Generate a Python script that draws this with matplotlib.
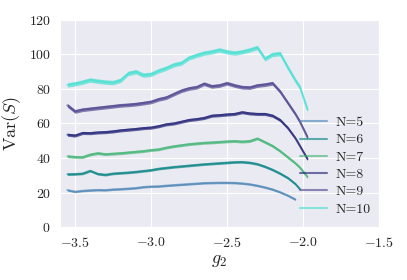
import numpy as np
import matplotlib.pyplot as plt
import seaborn as sns

G2 = [-3.55, -3.50, -3.45, -3.40, -3.35, -3.30, -3.25, -3.20, -3.15, -3.10, -3.05,
      -3.00, -2.95, -2.90, -2.85, -2.80, -2.75, -2.70, -2.65, -2.60, -2.55, -2.50,
      -2.45, -2.40, -2.35, -2.30, -2.25, -2.20, -2.15, -2.10, -2.05, -2.02, -1.97]

N_VALUES = [5, 6, 7, 8, 9, 10]

VAR_N5 = [21.4, 20.5, 21.0, 21.3, 21.5, 21.4, 21.8, 22.0, 22.3, 22.6, 23.2,
          23.5, 23.6, 24.0, 24.3, 24.6, 24.9, 25.2, 25.5, 25.6, 25.7, 25.7,
          25.6, 25.3, 24.8, 24.0, 23.0, 21.8, 20.2, 18.3, 16.0]
VAR_N6 = [30.6, 30.7, 31.0, 32.6, 30.8, 30.3, 31.0, 31.3, 31.6, 32.0, 32.5,
          33.0, 33.8, 34.3, 34.8, 35.2, 35.6, 36.0, 36.4, 36.7, 37.0, 37.3,
          37.6, 37.7, 37.3, 36.5, 35.0, 33.2, 31.0, 28.5, 25.0, 22.0]
VAR_N7 = [41.0, 40.6, 40.5, 42.0, 42.8, 42.2, 42.5, 42.8, 43.2, 43.6, 44.0,
          44.6, 45.0, 46.0, 46.8, 47.4, 48.0, 48.4, 48.8, 49.0, 49.3, 49.6,
          49.8, 49.5, 49.8, 51.3, 49.2, 47.0, 44.0, 40.5, 37.0, 34.5, 29.0]
VAR_N8 = [53.5, 53.0, 54.5, 54.4, 54.8, 55.0, 55.4, 56.0, 56.4, 56.8, 57.3,
          57.6, 58.4, 59.5, 60.0, 61.0, 62.0, 62.5, 63.2, 64.5, 64.8, 65.2,
          65.5, 66.5, 65.8, 65.5, 65.5, 64.5, 62.0, 57.5, 51.5, 47.0, 39.4]
VAR_N9 = [70.5, 67.0, 68.0, 68.5, 69.0, 69.5, 70.0, 70.5, 70.8, 71.2, 71.8,
          72.5, 74.0, 75.0, 77.0, 79.0, 80.3, 81.0, 83.0, 81.5, 82.0, 83.3,
          82.0, 81.0, 80.8, 82.0, 82.5, 83.3, 78.5, 72.0, 65.5, 61.0, 52.0]
VAR_N10 = [82.3, 83.0, 84.0, 85.2, 84.5, 84.0, 83.7, 85.0, 89.0, 90.0, 88.0,
           88.5, 90.5, 92.0, 94.0, 95.0, 98.0, 99.5, 100.8, 101.5, 102.6, 101.5,
           100.8, 101.5, 102.6, 104.0, 97.5, 100.0, 100.5, 92.5, 85.0, 81.0, 68.0]

# half width of the shaded band around each curve
ERR = [0.6, 0.7, 0.8, 0.9, 1.1, 1.3]

COLORS = ["steelblue", "teal", "mediumseagreen", "midnightblue",
          "darkslateblue", "turquoise"]


def main():
    sns.set_style("darkgrid")
    plt.rcParams["mathtext.fontset"] = "cm"
    plt.rcParams["font.family"] = ["cmr10", "DejaVu Serif"]
    plt.rcParams["axes.formatter.use_mathtext"] = True

    fig = plt.figure(figsize=(4.07, 2.80), dpi=100)
    ax = fig.add_axes([0.147, 0.189, 0.784, 0.740])

    series = [VAR_N5, VAR_N6, VAR_N7, VAR_N8, VAR_N9, VAR_N10]
    for n, vals, err, c in zip(N_VALUES, series, ERR, COLORS):
        x = np.array(G2[:len(vals)])
        y = np.array(vals)
        ax.fill_between(x, y - err, y + err, color=c, alpha=0.65, lw=0)
        ax.plot(x, y, color=c, alpha=0.6, lw=1.5, label=f"N={n}")

    ax.set_xlim(-3.6, -1.5)
    ax.set_ylim(0, 120)
    ax.set_xticks([-3.5, -3.0, -2.5, -2.0, -1.5])
    ax.set_yticks([0, 20, 40, 60, 80, 100, 120])
    ax.set_xticklabels([r"$-3.5$", r"$-3.0$", r"$-2.5$", r"$-2.0$", r"$-1.5$"])
    ax.set_yticklabels([rf"${v}$" for v in [0, 20, 40, 60, 80, 100, 120]])
    ax.tick_params(labelsize=10, pad=3)
    ax.set_xlabel(r"$g_2$", fontsize=13, labelpad=2)
    ax.set_ylabel(r"$\mathrm{Var}(S)$", fontsize=13, labelpad=4)

    ax.legend(loc="lower right", frameon=False, fontsize=10,
              bbox_to_anchor=(1.012, -0.005), handlelength=1.9,
              handletextpad=0.6, labelspacing=0.33)

    fig.savefig("out.png", dpi=100)


if __name__ == "__main__":
    main()
